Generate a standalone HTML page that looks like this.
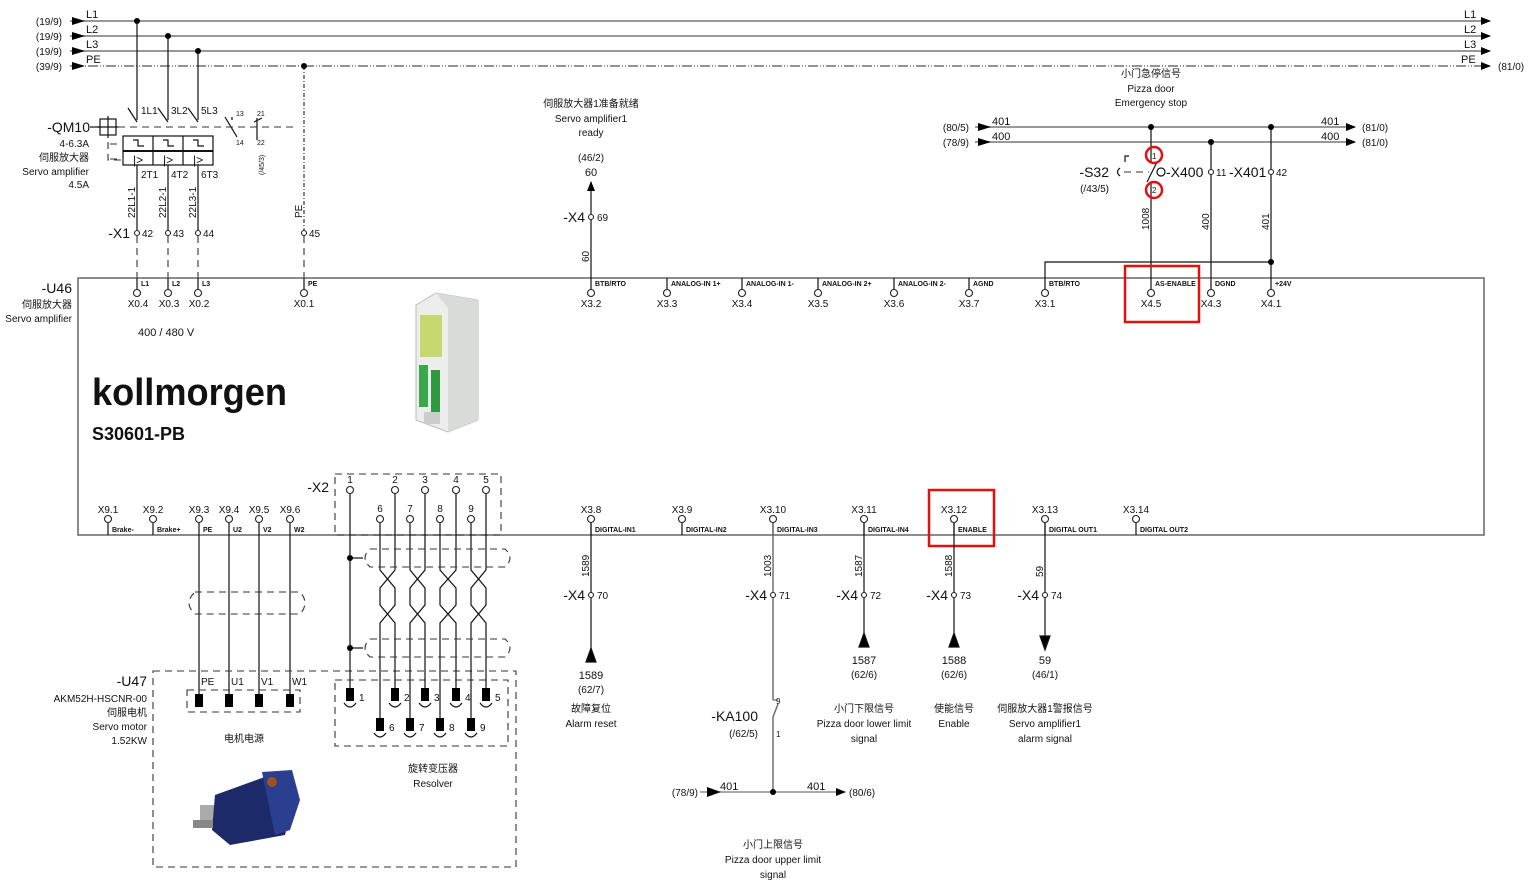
<!DOCTYPE html>
<html><head><meta charset="utf-8"><style>
html,body{margin:0;padding:0;background:#fff;width:1536px;height:886px;overflow:hidden}
svg{display:block}
text{font-family:"Liberation Sans","Noto Sans CJK SC",sans-serif;fill:#111}
.s{font-size:10px}.m{font-size:11px}.l{font-size:14px}.p{font-size:7px;font-weight:bold}
.ln{stroke:#777;stroke-width:1.5;fill:none}
.bk{stroke:#111;stroke-width:1.2;fill:none}
.ds{stroke:#333;stroke-width:1.1;fill:none;stroke-dasharray:7,5}
.c{fill:#fff;stroke:#222;stroke-width:1.1}
</style></head><body>
<svg width="1536" height="886" viewBox="0 0 1536 886" xmlns="http://www.w3.org/2000/svg">
<defs>
<marker id="a" markerWidth="10" markerHeight="8" refX="9" refY="4" orient="auto" markerUnits="userSpaceOnUse"><path d="M0,0L10,4L0,8z" fill="#000"/></marker>
</defs>
<g class="s" text-anchor="end">
<text x="62" y="25">(19/9)</text><text x="62" y="40">(19/9)</text><text x="62" y="55">(19/9)</text><text x="62" y="70">(39/9)</text>
</g>
<g>
<line x1="70" y1="21" x2="1490" y2="21" class="ln" marker-end="url(#a)"/>
<line x1="70" y1="36" x2="1490" y2="36" class="ln" marker-end="url(#a)"/>
<line x1="70" y1="51" x2="1490" y2="51" class="ln" marker-end="url(#a)"/>
<line x1="70" y1="66" x2="1490" y2="66" stroke="#555" stroke-width="1.2" stroke-dasharray="10,2,1,2,1,2" marker-end="url(#a)"/>
<path d="M72,17L85,21L72,25zM72,32L85,36L72,40zM72,47L85,51L72,55zM72,62L85,66L72,70z" fill="#000"/>
</g>
<g class="m"><text x="86" y="18">L1</text><text x="86" y="33">L2</text><text x="86" y="48">L3</text><text x="86" y="63">PE</text>
<text x="1464" y="18">L1</text><text x="1464" y="33">L2</text><text x="1464" y="48">L3</text><text x="1461" y="63">PE</text></g>
<text x="1498" y="70" class="s">(81/0)</text>
<g fill="#000"><circle cx="137" cy="21" r="3"/><circle cx="168" cy="36" r="3"/><circle cx="198" cy="51" r="3"/><circle cx="304" cy="66" r="3"/></g>

<g class="bk">
<line x1="137" y1="21" x2="137" y2="120"/><line x1="168" y1="36" x2="168" y2="120"/><line x1="198" y1="51" x2="198" y2="120"/>
<line x1="128" y1="108" x2="137" y2="122"/><line x1="158" y1="108" x2="168" y2="122"/><line x1="188" y1="108" x2="198" y2="122"/>
<rect x="123" y="136" width="90" height="29"/><line x1="123" y1="151" x2="213" y2="151" stroke-width="2"/>
<line x1="153" y1="136" x2="153" y2="165"/><line x1="183" y1="136" x2="183" y2="165"/>
<path d="M133,140h5v6h6M163,140h5v6h6M193,140h5v6h6"/>
<line x1="137" y1="165" x2="137" y2="233"/><line x1="168" y1="165" x2="168" y2="233"/><line x1="198" y1="165" x2="198" y2="233"/>
<line x1="90" y1="127" x2="100" y2="127"/><rect x="100" y="119" width="16" height="16"/><line x1="108" y1="116" x2="108" y2="138"/><line x1="97" y1="127" x2="118" y2="127"/>
<line x1="225" y1="117" x2="237" y2="137"/><line x1="232" y1="117" x2="232" y2="120"/>
<line x1="257" y1="118" x2="257" y2="140"/><line x1="254" y1="122" x2="262" y2="118"/>
</g>
<line x1="118" y1="127" x2="295" y2="127" class="ds"/>
<path d="M108,142v18h15" class="ds"/>
<path d="M110,144h12M110,159h12" class="ds"/>
<g font-size="12px"><text x="133" y="164">|&gt;</text><text x="163" y="164">|&gt;</text><text x="193" y="164">|&gt;</text></g>
<text x="90" y="132" class="l" text-anchor="end">-QM10</text>
<g class="s" text-anchor="end"><text x="89" y="147">4-6.3A</text><text x="89" y="161">伺服放大器</text><text x="89" y="175">Servo amplifier</text><text x="89" y="188">4.5A</text></g>
<g class="s"><text x="141" y="114">1L1</text><text x="171" y="114">3L2</text><text x="201" y="114">5L3</text>
<text x="141" y="178">2T1</text><text x="171" y="178">4T2</text><text x="201" y="178">6T3</text></g>
<g font-size="7px"><text x="236" y="116">13</text><text x="236" y="145">14</text><text x="257" y="116">21</text><text x="257" y="145">22</text></g>
<text transform="translate(264,175) rotate(-90)" font-size="7px">(/45/3)</text>
<g class="s"><text transform="translate(135,218) rotate(-90)">22L1-1</text><text transform="translate(166,218) rotate(-90)">22L2-1</text><text transform="translate(196,218) rotate(-90)">22L3-1</text><text transform="translate(302,218) rotate(-90)">PE</text></g>
<line x1="304" y1="66" x2="304" y2="233" stroke="#222" stroke-width="1.1" stroke-dasharray="4,2,1,2"/>
<text x="130" y="238" class="l" text-anchor="end">-X1</text>
<g class="c"><circle cx="137" cy="233" r="2.5"/><circle cx="168" cy="233" r="2.5"/><circle cx="198" cy="233" r="2.5"/><circle cx="304" cy="233" r="2.5"/></g>
<g class="s"><text x="142" y="237">42</text><text x="173" y="237">43</text><text x="203" y="237">44</text><text x="309" y="237">45</text></g>
<g class="ds" stroke-dasharray="8,6"><line x1="137" y1="236" x2="137" y2="278"/><line x1="168" y1="236" x2="168" y2="278"/><line x1="198" y1="236" x2="198" y2="278"/><line x1="304" y1="236" x2="304" y2="278"/></g>

<rect x="78" y="278" width="1406" height="257" fill="none" stroke="#666" stroke-width="1.5"/>
<text x="72" y="293" class="l" text-anchor="end">-U46</text>
<text x="72" y="308" class="s" text-anchor="end">伺服放大器</text>
<text x="72" y="322" class="s" text-anchor="end">Servo amplifier</text>
<text x="138" y="336" class="m">400 / 480 V</text>
<text x="92" y="405" font-size="38" font-weight="bold" textLength="195" lengthAdjust="spacingAndGlyphs">kollmorgen</text>
<text x="92" y="440" font-size="18" font-weight="bold">S30601-PB</text>
<g>
<path d="M416,305L436,293L478,300L478,420L448,432L416,420z" fill="#eceeec" stroke="#bbb"/>
<path d="M436,293L478,300L478,420L448,432L448,308z" fill="#d8dcd8"/>
<rect x="420" y="315" width="22" height="42" fill="#c8d870"/>
<rect x="419" y="365" width="9" height="42" fill="#3aa84a"/><rect x="431" y="370" width="9" height="42" fill="#2e9a40"/>
<rect x="424" y="412" width="16" height="12" fill="#ccc"/>
</g>

<g class="bk">
<line x1="137" y1="278" x2="137" y2="289"/><line x1="168" y1="278" x2="168" y2="289"/><line x1="198" y1="278" x2="198" y2="289"/><line x1="304" y1="278" x2="304" y2="289"/>
<line x1="591" y1="278" x2="591" y2="289"/><line x1="667" y1="278" x2="667" y2="289"/><line x1="742" y1="278" x2="742" y2="289"/><line x1="818" y1="278" x2="818" y2="289"/><line x1="894" y1="278" x2="894" y2="289"/><line x1="969" y1="278" x2="969" y2="289"/><line x1="1045" y1="278" x2="1045" y2="289"/><line x1="1151" y1="278" x2="1151" y2="289"/><line x1="1211" y1="278" x2="1211" y2="289"/><line x1="1271" y1="278" x2="1271" y2="289"/>
</g>
<g class="c"><circle cx="137" cy="293" r="3.5"/><circle cx="168" cy="293" r="3.5"/><circle cx="198" cy="293" r="3.5"/><circle cx="304" cy="293" r="3.5"/><circle cx="591" cy="293" r="3.5"/><circle cx="667" cy="293" r="3.5"/><circle cx="742" cy="293" r="3.5"/><circle cx="818" cy="293" r="3.5"/><circle cx="894" cy="293" r="3.5"/><circle cx="969" cy="293" r="3.5"/><circle cx="1045" cy="293" r="3.5"/><circle cx="1151" cy="293" r="3.5"/><circle cx="1211" cy="293" r="3.5"/><circle cx="1271" cy="293" r="3.5"/></g>
<g class="p"><text x="141" y="286">L1</text><text x="172" y="286">L2</text><text x="202" y="286">L3</text><text x="308" y="286">PE</text><text x="595" y="286">BTB/RTO</text><text x="671" y="286">ANALOG-IN 1+</text><text x="746" y="286">ANALOG-IN 1-</text><text x="822" y="286">ANALOG-IN 2+</text><text x="898" y="286">ANALOG-IN 2-</text><text x="973" y="286">AGND</text><text x="1049" y="286">BTB/RTO</text><text x="1155" y="286">AS-ENABLE</text><text x="1215" y="286">DGND</text><text x="1275" y="286">+24V</text></g>
<g class="s" text-anchor="middle"><text x="138" y="307">X0.4</text><text x="169" y="307">X0.3</text><text x="199" y="307">X0.2</text><text x="304" y="307">X0.1</text><text x="591" y="307">X3.2</text><text x="667" y="307">X3.3</text><text x="742" y="307">X3.4</text><text x="818" y="307">X3.5</text><text x="894" y="307">X3.6</text><text x="969" y="307">X3.7</text><text x="1045" y="307">X3.1</text><text x="1151" y="307">X4.5</text><text x="1211" y="307">X4.3</text><text x="1271" y="307">X4.1</text></g>

<line x1="591" y1="278" x2="591" y2="182" class="bk" marker-end="url(#a)"/>
<circle cx="591" cy="217" r="2.5" class="c"/>
<text x="585" y="222" class="l" text-anchor="end">-X4</text><text x="597" y="221" class="s">69</text>
<text transform="translate(589,262) rotate(-90)" class="s">60</text>
<g class="s" text-anchor="middle"><text x="591" y="176" font-size="11">60</text><text x="591" y="161">(46/2)</text><text x="591" y="107">伺服放大器1准备就绪</text><text x="591" y="122">Servo amplifier1</text><text x="591" y="136">ready</text></g>

<text x="969" y="131" class="s" text-anchor="end">(80/5)</text><text x="969" y="146" class="s" text-anchor="end">(78/9)</text>
<line x1="975" y1="127" x2="1355" y2="127" class="ln" marker-end="url(#a)"/>
<line x1="975" y1="142" x2="1355" y2="142" class="ln" marker-end="url(#a)"/>
<path d="M978,123L991,127L978,131zM978,138L991,142L978,146z"/>
<g class="m"><text x="992" y="125">401</text><text x="992" y="140">400</text><text x="1321" y="125">401</text><text x="1321" y="140">400</text></g>
<text x="1362" y="131" class="s">(81/0)</text><text x="1362" y="146" class="s">(81/0)</text>
<g class="s" text-anchor="middle"><text x="1151" y="77">小门急停信号</text><text x="1151" y="92">Pizza door</text><text x="1151" y="106">Emergency stop</text></g>
<g class="bk">
<line x1="1151" y1="127" x2="1151" y2="163"/><line x1="1151" y1="182" x2="1151" y2="278"/>
<line x1="1147" y1="182" x2="1157" y2="162"/>
<line x1="1211" y1="142" x2="1211" y2="278"/><line x1="1271" y1="127" x2="1271" y2="278"/>
<path d="M1045,278V262H1271"/>
<circle cx="1161" cy="172" r="4"/>
<path d="M1120,168q-5,4,0,8M1125,162v-6h4"/>
</g>
<line x1="1124" y1="172" x2="1149" y2="172" class="ds" stroke-dasharray="3,2"/>
<g fill="#000"><circle cx="1151" cy="127" r="3"/><circle cx="1271" cy="127" r="3"/><circle cx="1211" cy="142" r="3"/><circle cx="1271" cy="262" r="3"/></g>
<g class="c"><circle cx="1211" cy="172" r="2.5"/><circle cx="1271" cy="172" r="2.5"/></g>
<text x="1109" y="177" class="l" text-anchor="end">-S32</text><text x="1109" y="192" class="s" text-anchor="end">(/43/5)</text>
<text x="1166" y="177" class="l">-X400</text><text x="1216" y="176" class="s">11</text><text x="1229" y="177" class="l">-X401</text><text x="1276" y="176" class="s">42</text>
<text x="1152" y="159" font-size="8">1</text><text x="1152" y="193" font-size="8">2</text>
<g class="s"><text transform="translate(1149,230) rotate(-90)">1008</text><text transform="translate(1209,230) rotate(-90)">400</text><text transform="translate(1269,230) rotate(-90)">401</text></g>
<g fill="none" stroke="#e41010" stroke-width="2.5"><circle cx="1154" cy="155" r="8"/><circle cx="1154" cy="190" r="8"/>
<rect x="1125" y="266" width="74" height="56"/><rect x="929" y="490" width="65" height="56"/></g>

<g class="bk">
<line x1="108" y1="523" x2="108" y2="535"/><line x1="153" y1="523" x2="153" y2="535"/>
<line x1="591" y1="523" x2="591" y2="535"/><line x1="682" y1="523" x2="682" y2="535"/><line x1="773" y1="523" x2="773" y2="535"/><line x1="864" y1="523" x2="864" y2="535"/><line x1="954" y1="523" x2="954" y2="535"/><line x1="1045" y1="523" x2="1045" y2="535"/><line x1="1136" y1="523" x2="1136" y2="535"/>
</g>
<g class="c"><circle cx="108" cy="519" r="3.5"/><circle cx="153" cy="519" r="3.5"/><circle cx="199" cy="519" r="3.5"/><circle cx="229" cy="519" r="3.5"/><circle cx="259" cy="519" r="3.5"/><circle cx="290" cy="519" r="3.5"/><circle cx="591" cy="519" r="3.5"/><circle cx="682" cy="519" r="3.5"/><circle cx="773" cy="519" r="3.5"/><circle cx="864" cy="519" r="3.5"/><circle cx="954" cy="519" r="3.5"/><circle cx="1045" cy="519" r="3.5"/><circle cx="1136" cy="519" r="3.5"/></g>
<g class="s" text-anchor="middle"><text x="108" y="513">X9.1</text><text x="153" y="513">X9.2</text><text x="199" y="513">X9.3</text><text x="229" y="513">X9.4</text><text x="259" y="513">X9.5</text><text x="290" y="513">X9.6</text><text x="591" y="513">X3.8</text><text x="682" y="513">X3.9</text><text x="773" y="513">X3.10</text><text x="864" y="513">X3.11</text><text x="954" y="513">X3.12</text><text x="1045" y="513">X3.13</text><text x="1136" y="513">X3.14</text></g>
<g class="p"><text x="112" y="532">Brake-</text><text x="157" y="532">Brake+</text><text x="203" y="532">PE</text><text x="233" y="532">U2</text><text x="263" y="532">V2</text><text x="294" y="532">W2</text><text x="595" y="532">DIGITAL-IN1</text><text x="686" y="532">DIGITAL-IN2</text><text x="777" y="532">DIGITAL-IN3</text><text x="868" y="532">DIGITAL-IN4</text><text x="958" y="532">ENABLE</text><text x="1049" y="532">DIGITAL OUT1</text><text x="1140" y="532">DIGITAL OUT2</text></g>

<g class="bk"><line x1="199" y1="523" x2="199" y2="700"/><line x1="229" y1="523" x2="229" y2="700"/><line x1="259" y1="523" x2="259" y2="700"/><line x1="290" y1="523" x2="290" y2="700"/></g>
<path d="M195,592H300Q310,603,300,614H195Q183,603,195,592Z" class="ds"/>
<rect x="153" y="671" width="363" height="196" class="ds"/>
<rect x="187" y="690" width="113" height="22" class="ds" stroke-dasharray="4,3"/>
<g fill="#000"><rect x="195" y="694" width="8" height="13"/><rect x="225" y="694" width="8" height="13"/><rect x="255" y="694" width="8" height="13"/><rect x="286" y="694" width="8" height="13"/></g>
<g class="s"><text x="201" y="685">PE</text><text x="231" y="685">U1</text><text x="261" y="685">V1</text><text x="292" y="685">W1</text></g>
<text x="147" y="686" class="l" text-anchor="end">-U47</text>
<g class="s" text-anchor="end"><text x="147" y="702">AKM52H-HSCNR-00</text><text x="147" y="716">伺服电机</text><text x="147" y="730">Servo motor</text><text x="147" y="744">1.52KW</text></g>
<text x="244" y="742" class="s" text-anchor="middle">电机电源</text>
<g>
<rect x="200" y="805" width="22" height="18" fill="#aaa"/>
<path d="M215,795L270,775L295,795L285,835L230,845L212,830z" fill="#1d2a6a"/>
<path d="M262,772L292,770L300,800L290,830L275,835z" fill="#2a3f8f"/>
<rect x="193" y="820" width="20" height="8" fill="#888"/>
<circle cx="272" cy="782" r="5" fill="#a05020"/>
</g>

<rect x="335" y="474" width="166" height="61" class="ds"/>
<text x="329" y="492" class="l" text-anchor="end">-X2</text>
<g class="c"><circle cx="350" cy="490" r="3.5"/><circle cx="395" cy="490" r="3.5"/><circle cx="425" cy="490" r="3.5"/><circle cx="456" cy="490" r="3.5"/><circle cx="486" cy="490" r="3.5"/><circle cx="380" cy="519" r="3.5"/><circle cx="410" cy="519" r="3.5"/><circle cx="440" cy="519" r="3.5"/><circle cx="471" cy="519" r="3.5"/></g>
<g class="s" text-anchor="middle"><text x="350" y="483">1</text><text x="395" y="483">2</text><text x="425" y="483">3</text><text x="456" y="483">4</text><text x="486" y="483">5</text><text x="380" y="512">6</text><text x="410" y="512">7</text><text x="440" y="512">8</text><text x="471" y="512">9</text></g>
<g class="bk" stroke-width="1">
<line x1="350" y1="494" x2="350" y2="700"/>
<path d="M395,494V570L380,588V605L395,623V700"/><path d="M380,523V570L395,588V605L380,623V730"/>
<path d="M425,494V570L410,588V605L425,623V700"/><path d="M410,523V570L425,588V605L410,623V730"/>
<path d="M456,494V570L440,588V605L456,623V700"/><path d="M440,523V570L456,588V605L440,623V730"/>
<path d="M486,494V570L471,588V605L486,623V700"/><path d="M471,523V570L486,588V605L471,623V730"/>
<line x1="350" y1="558" x2="363" y2="558"/><line x1="350" y1="648" x2="363" y2="648"/>
</g>
<path d="M370,549H505Q515,558,505,567H370Q360,558,370,549Z" class="ds"/>
<path d="M370,639H505Q515,648,505,657H370Q360,648,370,639Z" class="ds"/>
<g fill="#000"><circle cx="350" cy="558" r="3"/><circle cx="350" cy="648" r="3"/>
<rect x="346" y="688" width="8" height="13"/><rect x="391" y="688" width="8" height="13"/><rect x="421" y="688" width="8" height="13"/><rect x="452" y="688" width="8" height="13"/><rect x="482" y="688" width="8" height="13"/>
<rect x="376" y="718" width="8" height="13"/><rect x="406" y="718" width="8" height="13"/><rect x="436" y="718" width="8" height="13"/><rect x="467" y="718" width="8" height="13"/></g>
<g class="bk" stroke-width="1"><path d="M344,703q6,8,12,0M389,703q6,8,12,0M419,703q6,8,12,0M450,703q6,8,12,0M480,703q6,8,12,0M374,733q6,8,12,0M404,733q6,8,12,0M434,733q6,8,12,0M465,733q6,8,12,0"/></g>
<rect x="335" y="680" width="173" height="66" class="ds"/>
<g class="s"><text x="359" y="701">1</text><text x="404" y="701">2</text><text x="434" y="701">3</text><text x="465" y="701">4</text><text x="495" y="701">5</text><text x="389" y="731">6</text><text x="419" y="731">7</text><text x="449" y="731">8</text><text x="480" y="731">9</text></g>
<g class="s" text-anchor="middle"><text x="433" y="772">旋转变压器</text><text x="433" y="787">Resolver</text></g>

<g class="bk">
<line x1="591" y1="662" x2="591" y2="523"/><path d="M586,662L591,648L596,662z" fill="#000"/>
<line x1="864" y1="647" x2="864" y2="523"/><path d="M859,647L864,633L869,647z" fill="#000"/>
<line x1="954" y1="647" x2="954" y2="523"/><path d="M949,647L954,633L959,647z" fill="#000"/>
<line x1="1045" y1="523" x2="1045" y2="636"/><path d="M1040,636L1045,650L1050,636z" fill="#000"/>
</g>
<path d="M773,523V700M773,717L778,704M773,717V792" stroke="#666" stroke-width="1.4" fill="none"/>
<line x1="773" y1="700" x2="778" y2="700" stroke="#666" stroke-width="1.2"/>
<g class="c"><circle cx="591" cy="595" r="2.5"/><circle cx="773" cy="595" r="2.5"/><circle cx="864" cy="595" r="2.5"/><circle cx="954" cy="595" r="2.5"/><circle cx="1045" cy="595" r="2.5"/></g>
<g class="l" text-anchor="end"><text x="585" y="600">-X4</text><text x="767" y="600">-X4</text><text x="858" y="600">-X4</text><text x="948" y="600">-X4</text><text x="1039" y="600">-X4</text></g>
<g class="s"><text x="597" y="599">70</text><text x="779" y="599">71</text><text x="870" y="599">72</text><text x="960" y="599">73</text><text x="1051" y="599">74</text>
<text transform="translate(589,577) rotate(-90)">1589</text><text transform="translate(771,577) rotate(-90)">1003</text><text transform="translate(862,577) rotate(-90)">1587</text><text transform="translate(952,577) rotate(-90)">1588</text><text transform="translate(1043,577) rotate(-90)">59</text></g>
<g class="s" text-anchor="middle">
<text x="591" y="679" font-size="11">1589</text><text x="591" y="693">(62/7)</text><text x="591" y="712">故障复位</text><text x="591" y="727">Alarm reset</text>
<text x="864" y="664" font-size="11">1587</text><text x="864" y="678">(62/6)</text><text x="864" y="712">小门下限信号</text><text x="864" y="727">Pizza door lower limit</text><text x="864" y="742">signal</text>
<text x="954" y="664" font-size="11">1588</text><text x="954" y="678">(62/6)</text><text x="954" y="712">使能信号</text><text x="954" y="727">Enable</text>
<text x="1045" y="664" font-size="11">59</text><text x="1045" y="678">(46/1)</text><text x="1045" y="712">伺服放大器1警报信号</text><text x="1045" y="727">Servo amplifier1</text><text x="1045" y="742">alarm signal</text>
<text x="773" y="848">小门上限信号</text><text x="773" y="863">Pizza door upper limit</text><text x="773" y="878">signal</text>
</g>
<text x="758" y="721" class="l" text-anchor="end">-KA100</text><text x="758" y="737" class="s" text-anchor="end">(/62/5)</text>
<text x="776" y="704" font-size="8">9</text><text x="776" y="737" font-size="8">1</text>
<line x1="700" y1="792" x2="845" y2="792" stroke="#777" stroke-width="1.3" marker-end="url(#a)"/>
<path d="M707,787L721,792L707,797z"/><circle cx="773" cy="792" r="3"/>
<g class="s"><text x="698" y="796" text-anchor="end">(78/9)</text><text x="849" y="796">(80/6)</text><text x="720" y="790" font-size="11">401</text><text x="807" y="790" font-size="11">401</text></g>
</svg>
</body></html>
